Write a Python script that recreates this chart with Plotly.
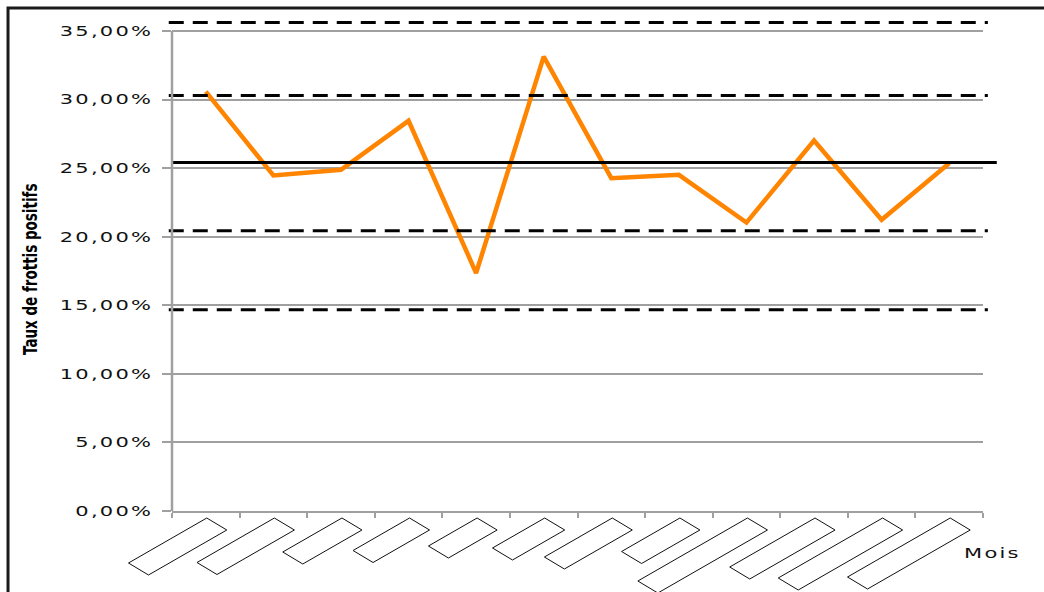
import plotly.graph_objects as go

# ---------------- data ----------------
month_index = list(range(1, 13))          # 12 months (labels left blank in the source)
month_labels = [""] * 12
positive_rate = [30.58, 24.46, 24.88, 28.45, 17.35, 33.13,
                 24.27, 24.51, 21.03, 27.01, 21.23, 25.36]   # % of positive smears
mean_rate = 25.41
upper_limits = [35.61, 30.29]
lower_limits = [20.43, 14.67]
y_tick_values = [0, 5, 10, 15, 20, 25, 30, 35]
y_tick_labels = ["0,00%", "5,00%", "10,00%", "15,00%", "20,00%", "25,00%", "30,00%", "35,00%"]
x_title = "Mois"
y_title = "Taux de frottis positifs"

# ---------------- style ----------------
label_box_len = [90, 89, 68, 65, 56, 60, 78, 67, 126, 98, 120, 118]  # empty rotated label boxes (px)
GRID = "#a0a0a0"
ORANGE = "#FF8400"

fig = go.Figure()
fig.add_trace(go.Scatter(
    x=month_index, y=positive_rate, mode="lines",
    line=dict(color=ORANGE, width=4.5), hoverinfo="skip", showlegend=False,
))

shapes = []
# mean (solid) and limits (dashed)
shapes.append(dict(type="line", xref="paper", yref="y", x0=0, x1=1.017,
                   y0=mean_rate, y1=mean_rate, line=dict(color="black", width=3)))
for v in upper_limits + lower_limits:
    shapes.append(dict(type="line", xref="paper", yref="y", x0=-0.004, x1=1.006,
                       y0=v, y1=v, line=dict(color="black", width=3, dash="15px,9px")))
# y axis line (only up to the top tick)
shapes.append(dict(type="line", xref="paper", yref="y", x0=0, x1=0,
                   y0=y_tick_values[0], y1=y_tick_values[-1],
                   line=dict(color=GRID, width=2.5), layer="above"))
# empty rotated category label boxes
n = len(month_index)
for i, L in enumerate(label_box_len):
    ax = (i + 0.5) / n
    cx, cy = 0.87 * L, 0.5 * L
    path = (f"M 1,-7 L 21,-19 L {21 - cx:.1f},{-19 - cy:.1f} "
            f"L {1 - cx:.1f},{-7 - cy:.1f} Z")
    shapes.append(dict(type="path", xref="paper", yref="paper",
                       xsizemode="pixel", ysizemode="pixel",
                       xanchor=ax, yanchor=0, path=path,
                       line=dict(color="#111111", width=1), fillcolor="rgba(0,0,0,0)"))
# outer chart border
shapes.append(dict(type="rect", xref="paper", yref="paper",
                   x0=-0.2022, x1=1.2, y0=-0.4, y1=1.0244,
                   line=dict(color="#1a1a1a", width=3), fillcolor="rgba(0,0,0,0)"))

fig.update_layout(
    width=1044, height=592,
    margin=dict(l=172, r=61, t=20, b=81),
    paper_bgcolor="white", plot_bgcolor="white",
    showlegend=False,
    shapes=shapes,
    xaxis=dict(
        range=[0.5, 12.5],
        tickmode="array",
        tickvals=[k + 0.5 for k in range(0, 13)],
        ticktext=[""] * 13,
        showticklabels=False,
        ticks="outside", ticklen=5, tickwidth=2, tickcolor=GRID,
        showgrid=False, zeroline=False,
        showline=True, linecolor=GRID, linewidth=2,
    ),
    yaxis=dict(
        range=[0, 35.8],
        tickmode="array",
        tickvals=y_tick_values, ticktext=y_tick_labels,
        ticks="outside", ticklen=9, tickwidth=2, tickcolor=GRID,
        ticklabelstandoff=6,
        showgrid=True, gridcolor=GRID, gridwidth=1.5,
        zeroline=False, showline=False,
        tickfont=dict(family="DejaVu Sans, Verdana, sans-serif", size=14, color="#111111"),
    ),
    annotations=[
        dict(text=x_title, xref="paper", yref="paper", x=0.978, y=-0.0855,
             xanchor="left", yanchor="middle", showarrow=False,
             font=dict(family="DejaVu Sans, Verdana, sans-serif", size=14, color="#111111")),
        dict(text=f"<b>{y_title}</b>", xref="paper", yref="paper", x=-0.1751, y=0.4929,
             xanchor="center", yanchor="middle", textangle=-90, showarrow=False,
             font=dict(family="Liberation Sans Narrow, Arial Narrow, DejaVu Sans Condensed, sans-serif",
                       size=15, color="black")),
    ],
)

# The source picture's text is horizontally widened; reproduce that look on the real text nodes.
post = """
var gd = document.getElementById('{plot_id}');
function stretch(el, sx, sy, mode) {
  var b = el.getBBox();
  var ox = mode === 'right' ? b.x + b.width : (mode === 'left' ? b.x : b.x + b.width / 2);
  var oy = b.y + b.height / 2;
  var tr = el.getAttribute('transform') || '';
  el.setAttribute('transform', tr + ' translate(' + ox + ',' + oy + ') scale(' + sx + ',' + sy + ') translate(' + (-ox) + ',' + (-oy) + ')');
}
gd.querySelectorAll('.ytick text').forEach(function(t) {
  t.style.letterSpacing = '1.5px';
  stretch(t, 1.5, 1, 'right');
});
gd.querySelectorAll('.annotation-text').forEach(function(t) {
  if (t.textContent === 'Mois') {
    t.style.letterSpacing = '1.5px';
    stretch(t, 1.5, 1, 'left');
  } else {
    stretch(t, 1, 1.35, 'center');
  }
});
"""

fig.write_html("out.html", post_script=post)
